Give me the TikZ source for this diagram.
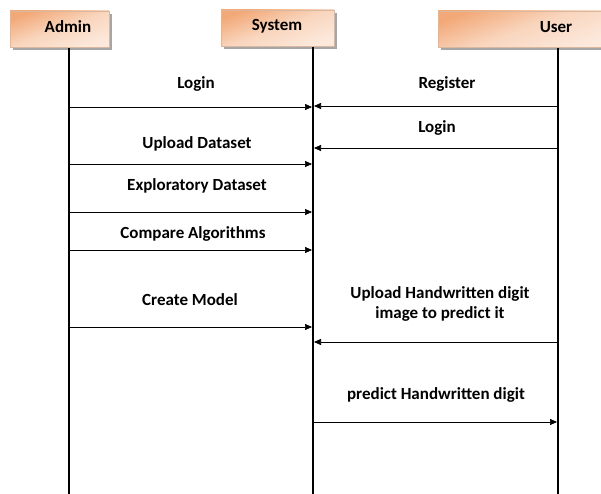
\documentclass[tikz,border=0pt]{standalone}
\usepackage{fontspec}
\setmainfont{Carlito}
\usetikzlibrary{arrows.meta}
\definecolor{boxdark}{HTML}{F2A877}
\definecolor{boxlight}{HTML}{FCE9DC}
\begin{document}
\begin{tikzpicture}[x=1pt,y=-1pt,
  actor/.style={draw=boxdark!80!black!60, line width=0.5pt, top color=boxdark, bottom color=boxlight, middle color=boxlight!70!boxdark, shading angle=20},
  shadowbox/.style={fill=black!35, draw=none},
  life/.style={line width=1.6pt},
  msg/.style={line width=0.7pt, -{Triangle[length=7pt,width=6pt]}},
  lbl/.style={font=\fontsize{17}{19}\selectfont\bfseries, inner sep=0pt, align=center}]
\useasboundingbox (0,0) rectangle (601,494);
\fill[white] (0,0) rectangle (601,494);
% boxes
\fill[shadowbox] (13,14) rectangle (112,50);
\shade[actor] (10,11) rectangle (109,47);
\fill[shadowbox] (224,13) rectangle (337,49);
\shade[actor] (221,10) rectangle (334,46);
\fill[shadowbox] (441,14) rectangle (610,50);
\shade[actor] (438,11) rectangle (607,47);
\node[lbl] (admin) at (68,27) {Admin};
\node[lbl] (system) at (277,26) {System};
\node[lbl] (user) at (556,27) {User};
% lifelines
\coordinate (a0) at (69,48); \coordinate (a1) at (69,494);
\coordinate (s0) at (313,47); \coordinate (s1) at (313,494);
\coordinate (u0) at (558,48); \coordinate (u1) at (558,494);
\draw[life] (a0) -- (a1);
\draw[life] (s0) -- (s1);
\draw[life] (u0) -- (u1);
% messages
\coordinate (m1a) at (69,107); \coordinate (m1s) at (312,107);
\draw[msg] (m1a) -- (m1s);
\node[lbl] (l1) at (196,84) {Login};
\coordinate (m2u) at (558,106); \coordinate (m2s) at (314,106);
\draw[msg] (m2u) -- (m2s);
\node[lbl] (l2) at (447,84) {Register};
\coordinate (m3u) at (558,148); \coordinate (m3s) at (314,148);
\draw[msg] (m3u) -- (m3s);
\node[lbl] (l3) at (437,128) {Login};
\coordinate (m4a) at (69,164); \coordinate (m4s) at (312,164);
\draw[msg] (m4a) -- (m4s);
\node[lbl] (l4) at (197,144) {Upload Dataset};
\coordinate (m5a) at (69,212); \coordinate (m5s) at (312,212);
\draw[msg] (m5a) -- (m5s);
\node[lbl] (l5) at (197,186) {Exploratory Dataset};
\coordinate (m6a) at (69,250); \coordinate (m6s) at (312,250);
\draw[msg] (m6a) -- (m6s);
\node[lbl] (l6) at (193,234) {Compare Algorithms};
\coordinate (m7a) at (69,327); \coordinate (m7s) at (312,327);
\draw[msg] (m7a) -- (m7s);
\node[lbl] (l7) at (190,300) {Create Model};
\coordinate (m8u) at (558,342); \coordinate (m8s) at (314,342);
\draw[msg] (m8u) -- (m8s);
\node[lbl] (l8) at (440,303.5) {Upload Handwritten digit\\[1pt]image to predict it};
\coordinate (m9s) at (313,422); \coordinate (m9u) at (557,422);
\draw[msg] (m9s) -- (m9u);
\node[lbl] (l9) at (436,395) {predict Handwritten digit};
\end{tikzpicture}
\end{document}
